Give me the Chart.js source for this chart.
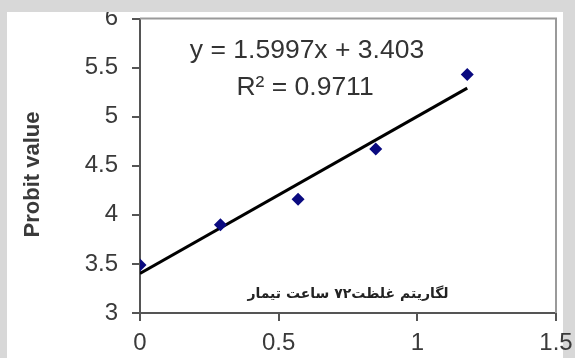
<!DOCTYPE html>
<html>
<head>
<meta charset="utf-8">
<script src="https://cdn.jsdelivr.net/npm/chart.js@4"></script>
<style>
  html, body { margin: 0; padding: 0; }
  body { width: 575px; height: 358px; background: #d8d8d8; position: relative; overflow: hidden; }
  #panel { position: absolute; left: 7px; top: 12px; width: 556px; height: 346px; background: #ffffff; }
  #c { position: absolute; left: 7px; top: 12px; display: block; }
</style>
</head>
<body>
<div id="panel"></div>
<canvas id="c" width="568" height="346"></canvas>
<script>
// log of concentration (x) and probit values (y)
const logConc = [0, 0.29, 0.57, 0.85, 1.18];
const probit = [3.49, 3.90, 4.16, 4.67, 5.43];

// fitted line
const slope = 1.5997;
const intercept = 3.403;
const rSquared = 0.9711;

const xRange = [0, 1.5];
const yRange = [3, 6];
const tickStep = 0.5;

const yTitle = 'Probit value';
const caption = 'لگاریتم غلظت۷۲ ساعت تیمار';
const equationText = 'y = ' + slope.toFixed(4) + 'x + ' + intercept.toFixed(3);
const r2Text = 'R² = ' + rSquared.toFixed(4);

const fitX = [Math.min(...logConc), Math.max(...logConc)];
const fitLine = fitX.map(x => ({ x: x, y: slope * x + intercept }));

const FONT = "'Liberation Sans', Arial, sans-serif";

const textPlugin = {
  id: 'chartText',
  afterDraw(chart) {
    const { ctx, chartArea: a } = chart;
    ctx.save();
    // top and right frame of the plot area
    ctx.strokeStyle = '#9a9a9a';
    ctx.lineWidth = 2;
    ctx.beginPath();
    ctx.moveTo(a.left, a.top);
    ctx.lineTo(a.right, a.top);
    ctx.lineTo(a.right, a.bottom);
    ctx.stroke();

    ctx.fillStyle = '#333333';
    ctx.textAlign = 'center';
    ctx.textBaseline = 'middle';
    ctx.font = '26.5px ' + FONT;
    ctx.fillText(equationText, a.left + 167, a.top + 32);
    ctx.fillText(r2Text, a.left + 165, a.top + 69);

    ctx.fillStyle = '#222222';
    ctx.font = 'bold 14px "DejaVu Sans", sans-serif';
    ctx.direction = 'rtl';
    ctx.fillText(caption, a.left + 208, a.bottom - 19);
    ctx.direction = 'ltr';

    ctx.fillStyle = '#3a3a3a';
    ctx.translate(26, a.top + 156);
    ctx.rotate(-Math.PI / 2);
    ctx.font = 'bold 22px ' + FONT;
    ctx.fillText(yTitle, 0, 0);
    ctx.restore();
  }
};

new Chart(document.getElementById('c'), {
  type: 'scatter',
  data: {
    datasets: [
      {
        label: 'probit',
        data: logConc.map((x, i) => ({ x: x, y: probit[i] })),
        pointStyle: 'rectRot',
        pointRadius: 6.5,
        pointBackgroundColor: '#0a0a80',
        pointBorderColor: '#0a0a80',
        borderWidth: 0,
        showLine: false,
        order: 1
      },
      {
        label: 'fit',
        data: fitLine,
        showLine: true,
        borderColor: '#000000',
        borderWidth: 3,
        pointRadius: 0,
        fill: false,
        order: 2
      }
    ]
  },
  options: {
    responsive: false,
    animation: false,
    devicePixelRatio: 1,
    layout: { padding: { top: 1, right: 19, left: 0, bottom: 0 } },
    plugins: { legend: { display: false }, tooltip: { enabled: false } },
    scales: {
      x: {
        type: 'linear',
        min: xRange[0], max: xRange[1],
        afterFit(s) { s.height = 45; s.paddingLeft = 0; s.paddingRight = 0; },
        ticks: {
          stepSize: tickStep,
          padding: 8,
          color: '#3a3a3a',
          font: { family: FONT, size: 24 },
          callback: v => String(v)
        },
        grid: { drawOnChartArea: false, drawTicks: true, tickLength: 8, color: '#555555', lineWidth: 2 },
        border: { display: true, color: '#555555', width: 2 }
      },
      y: {
        type: 'linear',
        min: yRange[0], max: yRange[1],
        afterFit(s) { s.width = 133; s.paddingTop = 0; s.paddingBottom = 0; },
        ticks: {
          stepSize: tickStep,
          padding: 14,
          color: '#3a3a3a',
          font: { family: FONT, size: 24 },
          callback: v => String(v)
        },
        grid: { drawOnChartArea: false, drawTicks: true, tickLength: 8, color: '#555555', lineWidth: 2 },
        border: { display: true, color: '#555555', width: 2 }
      }
    }
  },
  plugins: [textPlugin]
});
</script>
</body>
</html>
